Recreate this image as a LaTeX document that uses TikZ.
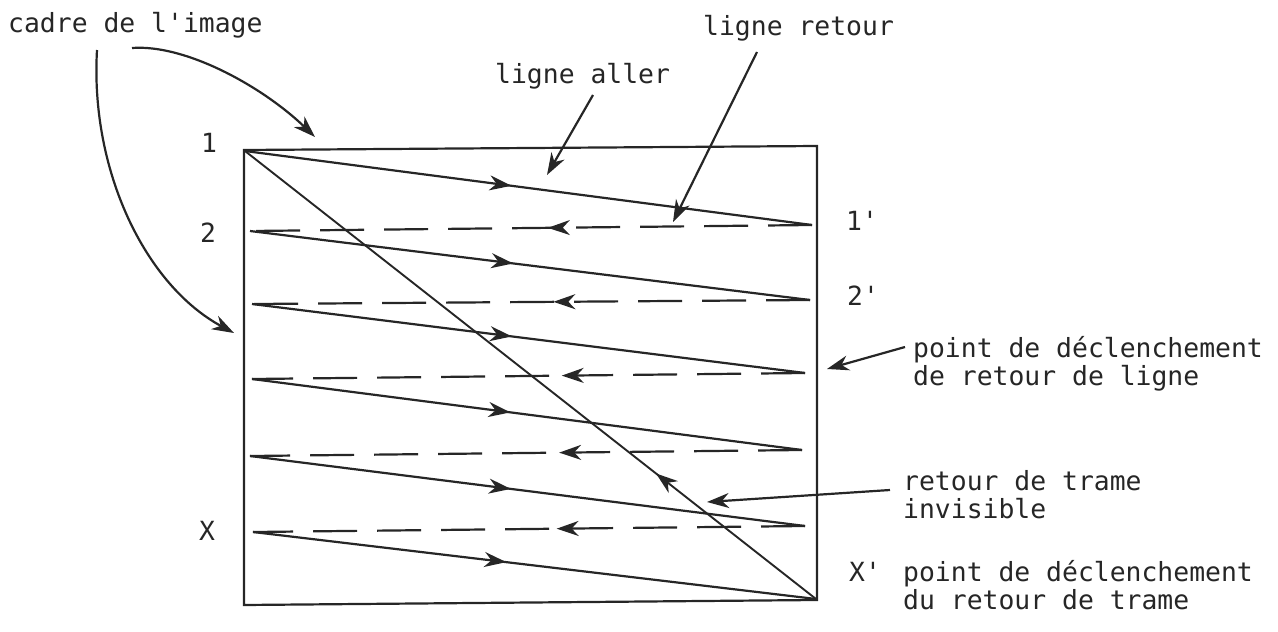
\documentclass[tikz,border=0pt]{standalone}
\usepackage{fontspec}
\setmonofont{DejaVu Sans Mono}
\usetikzlibrary{arrows.meta,decorations.markings}
\begin{document}
\begin{tikzpicture}[x=1pt,y=-1pt,
  ink/.style={draw=black!85, line width=2.2pt},
  lbl/.style={font=\ttfamily\fontsize{26.4}{28}\selectfont, text=black!85, inner sep=0pt, anchor=base west},
  tipped/.style={ink, -{Stealth[length=22pt,width=15pt,inset=7pt]}},
  midfwd/.style={postaction={decorate}, decoration={markings, mark=at position #1 with {\arrow[solid]{Stealth[length=22pt,width=15pt,inset=7pt]}}}},
  midback/.style={postaction={decorate}, decoration={markings, mark=at position #1 with {\arrowreversed[solid]{Stealth[length=22pt,width=15pt,inset=7pt]}}}},
  dashline/.style={ink, dash pattern=on 44pt off 20pt},
]
\useasboundingbox (0,0) rectangle (1278,632);

% frame corners
\coordinate (TL) at (244,150);
\coordinate (TR) at (817,146);
\coordinate (BR) at (817,600);
\coordinate (BL) at (244,605);
\draw[ink] (TL) -- (TR) -- (BR) -- (BL) -- cycle;

% scan points
\coordinate (L1) at (245,151);
\coordinate (R1) at (812,225);
\coordinate (L2) at (250,231);
\coordinate (R2) at (810,300);
\coordinate (L3) at (252,304);
\coordinate (R3) at (805,373);
\coordinate (L4) at (252,379);
\coordinate (R4) at (802,450);
\coordinate (L5) at (250,456);
\coordinate (R5) at (805,526);
\coordinate (L6) at (253,532);
\coordinate (R6) at (816,599);

% forward lines
\draw[ink, midfwd=0.47] (L1) -- (R1);
\draw[ink, midfwd=0.47] (L2) -- (R2);
\draw[ink, midfwd=0.47] (L3) -- (R3);
\draw[ink, midfwd=0.47] (L4) -- (R4);
\draw[ink, midfwd=0.47] (L5) -- (R5);
\draw[ink, midfwd=0.45] (L6) -- (R6);

% return lines (dashed)
\draw[dashline, midfwd=0.47] (R1) -- (L2);
\draw[dashline, midfwd=0.46] (R2) -- (L3);
\draw[dashline, midfwd=0.44] (R3) -- (L4);
\draw[dashline, midfwd=0.44] (R4) -- (L5);
\draw[dashline, midfwd=0.45] (R5) -- (L6);

% frame return (diagonal)
\draw[ink, line width=1.9pt, midback=0.72] (L1) -- (R6);

% labels
\node[lbl] (cadre) at (8,32) {cadre de l'image};
\node[lbl] (lretour) at (703,35) {ligne retour};
\node[lbl] (laller) at (495,83) {ligne aller};
\node[lbl] (n1) at (201,152) {1};
\node[lbl] (n2) at (200,242) {2};
\node[lbl] (nX) at (199,540) {X};
\node[lbl] (n1p) at (846,230) {1'};
\node[lbl] (n2p) at (847,305) {2'};
\node[lbl] (nXp) at (849,581) {X'};
\node[lbl] (pdl1) at (913,357) {point de déclenchement};
\node[lbl] (pdl2) at (913,385) {de retour de ligne};
\node[lbl] (rt1) at (903,490) {retour de trame};
\node[lbl] (rt2) at (903,518) {invisible};
\node[lbl] (pdt1) at (903,581) {point de déclenchement};
\node[lbl] (pdt2) at (903,609) {du retour de trame};

% annotation arrows
\coordinate (cA) at (132,48);
\coordinate (cAt) at (315,137);
\draw[tipped] (cA) .. controls (185,44) and (262,86) .. (cAt);
\coordinate (cB) at (97,50);
\coordinate (cBt) at (234,333);
\draw[tipped] (cB) .. controls (90,170) and (145,285) .. (cBt);
\coordinate (aS) at (593,95);
\coordinate (aT) at (547,175);
\draw[tipped] (aS) -- (aT);
\coordinate (rS) at (757,52);
\coordinate (rT) at (673,222);
\draw[tipped] (rS) -- (rT);
\coordinate (pS) at (905,347);
\coordinate (pT) at (827,369);
\draw[tipped] (pS) -- (pT);
\coordinate (tS) at (890,490);
\coordinate (tT) at (707,502);
\draw[tipped] (tS) -- (tT);
\end{tikzpicture}
\end{document}
